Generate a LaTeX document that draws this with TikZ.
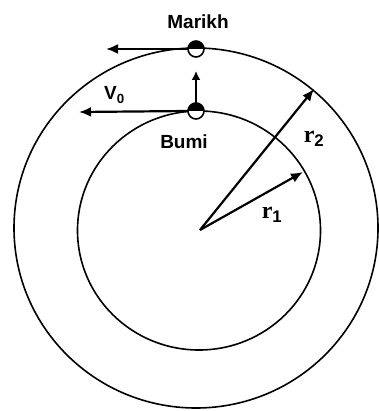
\documentclass[tikz,border=0pt]{standalone}
\usepackage{fontspec}
\setmainfont{Liberation Sans}
\newfontfamily\serifr{Liberation Serif}
\usetikzlibrary{arrows.meta,calc}
\begin{document}
\begin{tikzpicture}[x=1pt,y=-1pt,
  orbit/.style={line width=1.6pt},
  vec/.style={line width=2.2pt,-{Latex[length=12pt,width=10pt]}},
  lbl/.style={font=\fontsize{19}{19}\selectfont\bfseries,inner sep=0pt},
  rlbl/.style={font=\serifr\fontsize{24}{24}\selectfont\bfseries,inner sep=0pt},
  planet/.style={circle,minimum size=16pt,inner sep=0pt}]
\useasboundingbox (0,0) rectangle (378,411);
\coordinate (O) at (200,230);
\coordinate (Co) at (196,228);
\coordinate (Ci) at (199,230.5);
\draw[orbit] (Co) ellipse[x radius=182,y radius=180];
\draw[orbit] (Ci) ellipse[x radius=121.5,y radius=119.5];
% planets
\node[planet] (marikh) at (196,49) {};
\node[planet] (bumi) at (196,111) {};
\foreach \p in {marikh,bumi}{
  \fill[white] (\p) circle[radius=8];
  \fill[black] ($(\p)+(-8,0)$) arc[start angle=180,end angle=360,radius=8] -- cycle;
  \draw[line width=1.6pt] (\p) circle[radius=8];
}
\coordinate (tipM) at (106,49);
\coordinate (tipB) at (79,112);
\coordinate (tipU) at (196,71);
\draw[vec] (marikh.west) -- (tipM);
\draw[vec] (bumi.west) -- (tipB);
\draw[vec,-{Latex[length=9pt,width=9pt]}] (bumi.north) -- (tipU);
\coordinate (r2tip) at (314,89);
\coordinate (r1tip) at (303,172);
\draw[vec] (O) -- (r2tip);
\draw[vec] (O) -- (r1tip);
\node[lbl] (lm) at (198,22) {Marikh};
\node[lbl] (lb) at (184,142) {Bumi};
\node[lbl,anchor=west] (lv) at (104,95) {V$_{\mathbf 0}$};
\node[rlbl] (lr2) at (314,139) {r$_{\mathbf 2}$};
\node[rlbl] (lr1) at (272,215) {r$_{\mathbf 1}$};
\end{tikzpicture}
\end{document}
